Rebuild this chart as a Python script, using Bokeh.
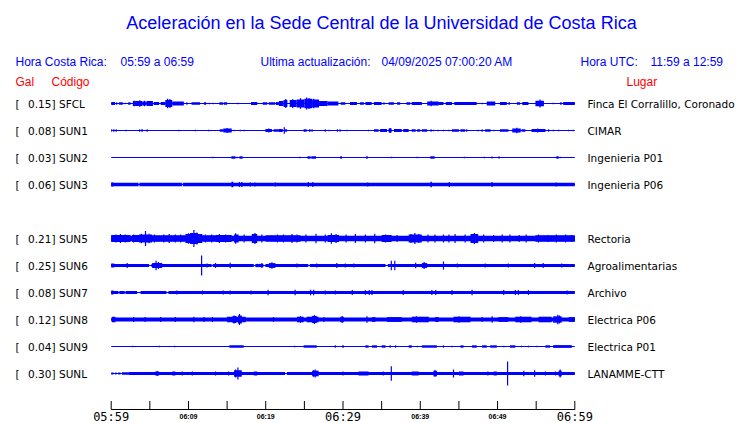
from bokeh.plotting import figure
from bokeh.models import Range1d, ColumnDataSource
from bokeh.core.properties import value
from bokeh.embed import file_html
from bokeh.resources import INLINE

# ---------------- data ----------------
codes = ["SFCL", "SUN1", "SUN2", "SUN3", "SUN5", "SUN6", "SUN7", "SUN8", "SUN9", "SUNL"]
gal_max = [0.15, 0.08, 0.03, 0.06, 0.21, 0.25, 0.08, 0.12, 0.04, 0.30]
places = ["Finca El Corralillo, Coronado", "CIMAR", "Ingenieria P01", "Ingenieria P06",
          "Rectoria", "Agroalimentarias", "Archivo", "Electrica P06", "Electrica P01", "LANAMME-CTT"]
row_slots = [0, 1, 2, 3, 5, 6, 7, 8, 9, 10]   # SUN4 slot is empty

# minutes since 05:59 ; half-amplitude envelope in Gal
SFCL_bands = [(0.0, 0.5, 0.04), (1.0, 1.5, 0.03), (2.2, 2.5, 0.03), (2.8, 3.2, 0.06), (3.2, 4.0, 0.06),
              (4.0, 4.6, 0.05), (4.6, 5.4, 0.06), (5.5, 6.2, 0.04), (6.4, 7.0, 0.04), (7.0, 7.9, 0.09),
              (7.9, 9.4, 0.05), (10.4, 11.5, 0.03), (12.0, 12.3, 0.03), (14.0, 14.5, 0.03), (14.6, 15.0, 0.03),
              (18.1, 18.9, 0.04), (19.6, 20.2, 0.03), (20.4, 21.2, 0.03), (21.3, 21.7, 0.04), (21.7, 22.3, 0.06),
              (22.3, 22.8, 0.09), (23.1, 24.0, 0.09), (24.0, 25.0, 0.10), (25.0, 26.0, 0.12), (26.0, 26.9, 0.10),
              (26.9, 28.0, 0.06), (28.0, 29.4, 0.05), (29.7, 30.3, 0.03), (30.9, 31.8, 0.04), (32.2, 32.7, 0.03),
              (32.9, 33.7, 0.04), (34.0, 35.0, 0.04), (35.9, 36.6, 0.03), (37.0, 37.4, 0.03), (38.2, 38.7, 0.03),
              (38.9, 40.2, 0.04), (40.9, 42.4, 0.05), (42.4, 43.0, 0.04), (43.3, 44.1, 0.04), (44.4, 47.3, 0.04),
              (48.6, 49.7, 0.05), (50.3, 51.2, 0.04), (51.4, 51.6, 0.03), (52.5, 52.9, 0.03), (53.2, 54.0, 0.04),
              (54.9, 56.0, 0.07), (58.1, 58.3, 0.03), (58.5, 60.0, 0.04)]
SFCL_spikes = [(0.7, 0.03), (1.8, 0.02), (3.0, 0.07), (3.7, 0.08), (4.3, 0.07), (7.3, 0.12), (7.6, 0.11),
               (9.8, 0.03), (12.7, 0.02), (13.2, 0.02), (16.4, 0.02), (22.6, 0.11), (23.5, 0.11), (24.5, 0.13),
               (25.3, 0.15), (25.6, 0.14), (26.2, 0.12), (35.3, 0.03), (41.4, 0.07), (48.0, 0.02), (55.5, 0.10),
               (57.2, 0.02)]

SUN1_bands = [(0.0, 0.12, 0.03), (3.6, 3.75, 0.03), (3.9, 4.1, 0.03), (14.05, 14.5, 0.03), (14.5, 15.6, 0.05),
              (19.96, 20.8, 0.04), (21.0, 21.7, 0.03), (21.7, 22.2, 0.04), (22.5, 22.76, 0.03), (24.9, 25.3, 0.03),
              (25.6, 25.8, 0.03), (29.2, 29.35, 0.03), (29.55, 29.7, 0.03), (34.0, 34.6, 0.03), (34.8, 35.7, 0.04),
              (35.9, 36.3, 0.05), (36.6, 37.6, 0.04), (37.8, 38.5, 0.04), (38.9, 39.4, 0.03), (39.6, 40.0, 0.03),
              (40.2, 40.9, 0.03), (44.1, 45.0, 0.03), (45.2, 45.8, 0.03), (48.4, 49.1, 0.03), (50.3, 51.4, 0.03),
              (51.9, 53.0, 0.05), (53.1, 53.6, 0.03), (54.4, 56.2, 0.04)]
SUN1_spikes = [(0.34, 0.03), (0.65, 0.03), (1.94, 0.02), (4.65, 0.03), (8.75, 0.02), (10.9, 0.02), (12.6, 0.02),
               (15.0, 0.06), (15.9, 0.02), (16.7, 0.02), (17.2, 0.02), (20.4, 0.05), (22.4, 0.08), (26.0, 0.03),
               (27.7, 0.03), (28.2, 0.02), (30.5, 0.02), (33.3, 0.02), (36.1, 0.06), (41.4, 0.03), (41.7, 0.02),
               (42.3, 0.02), (43.0, 0.02), (43.7, 0.02), (46.0, 0.03), (47.5, 0.02), (48.0, 0.03), (49.5, 0.02),
               (52.5, 0.07), (55.2, 0.05), (56.6, 0.03), (57.2, 0.02), (57.9, 0.02), (59.2, 0.02), (59.8, 0.02)]

SUN2_bands = [(15.56, 16.08, 0.03), (16.6, 17.0, 0.03), (25.4, 25.8, 0.03), (25.9, 26.5, 0.03), (29.65, 29.87, 0.03),
              (33.0, 33.2, 0.03), (41.3, 41.85, 0.03), (50.1, 50.3, 0.025), (57.6, 57.9, 0.03)]
SUN2_spikes = [(13.15, 0.02), (16.3, 0.02), (24.4, 0.02), (36.3, 0.02), (39.6, 0.02), (45.7, 0.02), (48.3, 0.02),
               (49.3, 0.025), (58.1, 0.02)]

SUN3_bands = [(0.0, 3.55, 0.045), (3.65, 9.15, 0.045), (9.25, 60.0, 0.045), (0.0, 0.3, 0.05),
              (15.56, 15.8, 0.07), (41.3, 41.5, 0.07)]
SUN3_spikes = [(16.6, 0.06), (16.9, 0.06), (18.0, 0.05), (18.6, 0.05), (21.25, 0.05), (25.5, 0.06), (26.1, 0.06),
               (33.2, 0.05), (43.75, 0.06), (49.3, 0.06), (57.6, 0.05)]

SUN5_bands = [(0.0, 60.0, 0.07), (0.0, 2.5, 0.09), (2.7, 3.6, 0.09), (3.6, 5.3, 0.10), (5.3, 6.4, 0.08),
              (6.4, 9.6, 0.08), (9.6, 11.8, 0.11), (10.2, 11.2, 0.14), (11.8, 13.5, 0.08), (13.5, 15.6, 0.09),
              (15.9, 16.5, 0.10), (18.2, 18.9, 0.11), (20.0, 24.5, 0.08), (28.0, 29.5, 0.09), (35.0, 36.3, 0.09),
              (38.5, 40.2, 0.10), (46.5, 47.5, 0.11), (54.9, 60.0, 0.08)]
SUN5_spikes = [(0.6, 0.10), (1.2, 0.11), (1.8, 0.10), (2.9, 0.10), (3.9, 0.12), (4.44, 0.19), (4.9, 0.12),
               (5.6, 0.10), (6.8, 0.10), (7.5, 0.11), (8.3, 0.10), (9.0, 0.10), (10.0, 0.13), (10.7, 0.21),
               (11.1, 0.15), (12.2, 0.10), (13.0, 0.10), (14.0, 0.11), (14.8, 0.10), (16.1, 0.13), (17.2, 0.10),
               (18.6, 0.14), (19.5, 0.10), (21.5, 0.10), (22.3, 0.10), (23.4, 0.11), (24.05, 0.10), (25.2, 0.10),
               (26.5, 0.12), (27.7, 0.10), (28.5, 0.13), (29.1, 0.11), (30.4, 0.10), (31.6, 0.11), (32.9, 0.10),
               (34.1, 0.12), (35.5, 0.10), (37.0, 0.09), (38.8, 0.11), (39.3, 0.14), (39.8, 0.11), (41.0, 0.10),
               (41.9, 0.10), (43.0, 0.10), (43.7, 0.10), (44.5, 0.11), (45.8, 0.10), (47.0, 0.14), (48.2, 0.10),
               (49.5, 0.09), (50.6, 0.10), (51.6, 0.10), (52.8, 0.09), (53.7, 0.10), (55.3, 0.10), (56.5, 0.09),
               (57.6, 0.10), (58.8, 0.10), (59.6, 0.09)]

SUN6_bands = [(0.0, 4.9, 0.04), (5.2, 13.0, 0.04), (13.15, 18.45, 0.04), (18.65, 19.7, 0.04), (19.95, 25.5, 0.04),
              (25.7, 35.5, 0.04), (35.8, 60.0, 0.04), (0.0, 0.4, 0.05), (5.3, 6.6, 0.06), (20.4, 21.25, 0.06),
              (40.2, 40.9, 0.06)]
SUN6_spikes = [(2.07, 0.06), (5.8, 0.12), (6.1, 0.09), (11.7, 0.25), (12.4, 0.05), (13.5, 0.06), (15.4, 0.07),
               (19.5, 0.06), (20.8, 0.08), (24.05, 0.05), (26.6, 0.05), (29.2, 0.06), (30.3, 0.05), (31.4, 0.05),
               (36.25, 0.12), (36.7, 0.12), (39.4, 0.07), (40.5, 0.09), (43.0, 0.10), (44.8, 0.05), (48.4, 0.05),
               (51.4, 0.05), (54.8, 0.06), (55.9, 0.06), (58.3, 0.05)]

SUN7_bands = [(0.0, 0.95, 0.04), (1.05, 1.75, 0.04), (1.85, 3.35, 0.04), (3.8, 7.15, 0.04), (7.4, 60.0, 0.04),
              (0.0, 0.3, 0.05)]
SUN7_spikes = [(8.5, 0.05), (11.8, 0.05), (14.5, 0.05), (15.4, 0.05), (18.1, 0.05), (20.3, 0.07), (23.8, 0.07),
               (25.8, 0.07), (26.2, 0.07), (27.7, 0.05), (29.0, 0.05), (31.2, 0.06), (32.9, 0.06), (33.4, 0.06),
               (33.75, 0.06), (37.8, 0.06), (41.5, 0.06), (42.0, 0.06), (44.1, 0.06), (46.7, 0.07), (50.8, 0.06),
               (52.3, 0.06), (52.7, 0.06), (54.0, 0.06), (59.0, 0.05)]

SUN8_bands = [(0.0, 60.0, 0.05), (0.1, 0.55, 0.07), (15.0, 17.4, 0.07), (15.7, 16.2, 0.09), (16.4, 16.9, 0.10),
              (24.05, 24.9, 0.07), (25.3, 26.85, 0.07), (26.0, 26.6, 0.09), (29.65, 30.1, 0.07), (33.75, 34.2, 0.06),
              (35.7, 37.6, 0.06), (38.9, 41.1, 0.07), (41.9, 42.4, 0.06), (44.3, 46.5, 0.07), (50.1, 51.4, 0.06),
              (52.3, 54.4, 0.07), (55.3, 57.0, 0.07), (57.2, 58.3, 0.08), (59.2, 60.0, 0.06)]
SUN8_spikes = [(2.9, 0.06), (4.4, 0.06), (6.4, 0.06), (8.3, 0.06), (10.7, 0.07), (12.0, 0.06), (13.1, 0.06),
               (15.9, 0.10), (16.6, 0.14), (21.0, 0.06), (24.5, 0.08), (26.3, 0.11), (27.5, 0.06), (29.9, 0.08),
               (33.1, 0.08), (39.5, 0.08), (45.0, 0.08), (48.0, 0.06), (49.3, 0.08), (53.0, 0.08), (57.8, 0.12),
               (58.0, 0.10)]

SUN9_bands = [(15.3, 17.15, 0.03), (24.9, 26.6, 0.03), (29.9, 30.1, 0.03), (32.9, 33.3, 0.03), (33.75, 34.4, 0.03),
              (35.0, 35.5, 0.03), (38.5, 38.9, 0.03), (40.2, 42.15, 0.03), (45.2, 45.6, 0.03), (46.7, 47.3, 0.03),
              (48.0, 48.6, 0.03), (49.05, 49.9, 0.03), (51.6, 52.3, 0.03), (56.2, 56.8, 0.03), (57.2, 59.6, 0.035)]
SUN9_spikes = [(2.8, 0.02), (6.25, 0.02), (8.2, 0.02), (23.75, 0.02), (29.0, 0.03), (36.1, 0.03), (36.8, 0.03),
               (39.6, 0.02), (43.0, 0.03), (44.1, 0.02), (50.8, 0.02), (53.1, 0.02), (54.0, 0.02), (55.1, 0.02)]

SUNL_bands = [(0.0, 0.3, 0.025), (0.5, 0.7, 0.025), (0.9, 1.2, 0.025), (1.4, 2.3, 0.03), (2.3, 22.5, 0.04),
              (22.75, 60.0, 0.04), (5.7, 6.2, 0.05), (7.9, 8.3, 0.05), (15.9, 16.9, 0.08), (18.45, 18.9, 0.05),
              (26.0, 26.85, 0.07), (32.0, 33.3, 0.05), (38.9, 39.8, 0.05), (41.7, 42.15, 0.07), (45.0, 45.6, 0.05),
              (49.5, 49.9, 0.05), (57.9, 58.3, 0.07)]
SUNL_spikes = [(2.6, 0.03), (5.95, 0.06), (9.2, 0.05), (10.5, 0.05), (13.5, 0.05), (15.2, 0.05), (16.1, 0.10),
               (16.4, 0.15), (26.2, 0.08), (26.4, 0.10), (30.0, 0.05), (35.2, 0.05), (36.25, 0.18), (41.9, 0.08),
               (44.3, 0.10), (48.75, 0.05), (51.3, 0.30), (53.4, 0.07), (54.8, 0.08), (56.2, 0.05), (57.5, 0.05),
               (58.1, 0.10)]

bands = [SFCL_bands, SUN1_bands, SUN2_bands, SUN3_bands, SUN5_bands,
         SUN6_bands, SUN7_bands, SUN8_bands, SUN9_bands, SUNL_bands]
spikes = [SFCL_spikes, SUN1_spikes, SUN2_spikes, SUN3_spikes, SUN5_spikes,
          SUN6_spikes, SUN7_spikes, SUN8_spikes, SUN9_spikes, SUNL_spikes]

tick_minutes = list(range(0, 61, 5))
small_tick_pos = [10, 20, 40, 50]
small_tick_labels = ["06:09", "06:19", "06:39", "06:49"]
big_tick_pos = [0, 30, 60]
big_tick_labels = ["05:59", "06:29", "06:59"]

title_text = "Aceleración en la Sede Central de la Universidad de Costa Rica"

# ---------------- layout ----------------
BLUE = "#0000FF"
RED = "#FF0000"
PX_PER_GAL = 40.0
ROW0, ROW_STEP = 103, 27
W, H = 740, 423
X0_PX, PX_PER_MIN = 110.7, 7.727
AXIS_Y, TICK_LEN = 409, 8.5

p = figure(width=W, height=H, output_backend="svg", toolbar_location=None,
           x_range=Range1d(-X0_PX / PX_PER_MIN, (W - X0_PX) / PX_PER_MIN), y_range=Range1d(H, 0),
           min_border=0, x_axis_location=None, y_axis_location=None,
           outline_line_color=None, background_fill_color="white", border_fill_color="white")
p.grid.visible = False
p.extra_x_ranges = {"px": Range1d(0, W)}

rows = [ROW0 + ROW_STEP * s for s in row_slots]

# baselines
p.segment(x0=[0] * len(rows), x1=[60] * len(rows), y0=rows, y1=rows, line_color=BLUE, line_width=1)

# envelope blocks
ql, qr, qt, qb = [], [], [], []
for r, bl in zip(rows, bands):
    for (a, b, g) in bl:
        ql.append(a); qr.append(b)
        qt.append(r - g * PX_PER_GAL); qb.append(r + g * PX_PER_GAL)
p.quad(source=ColumnDataSource(dict(left=ql, right=qr, top=qt, bottom=qb)),
       left="left", right="right", top="top", bottom="bottom",
       fill_color=BLUE, line_color=None)

# spikes
sx, sy0, sy1 = [], [], []
for r, sp in zip(rows, spikes):
    for (t, g) in sp:
        sx.append(t); sy0.append(r - g * PX_PER_GAL); sy1.append(r + g * PX_PER_GAL)
p.segment(x0=sx, x1=sx, y0=sy0, y1=sy1, line_color=BLUE, line_width=1.2)

# ---------------- texts ----------------
def txt(x, y, s, color, size, align="left", font="Liberation Sans"):
    p.text(x=[x], y=[y], text=[s], x_range_name="px", text_color=color,
           text_font=value(font), text_font_size=size, text_align=align,
           text_baseline="middle")

txt(381, 22, title_text, BLUE, "18px", "center")
txt(15, 61, "Hora Costa Rica:", BLUE, "12px")
txt(120, 61, "05:59 a 06:59", BLUE, "12px")
txt(260, 61, "Ultima actualización:", BLUE, "12px")
txt(381, 61, "04/09/2025 07:00:20 AM", BLUE, "12px")
txt(580, 61, "Hora UTC:", BLUE, "12px")
txt(650, 61, "11:59 a 12:59", BLUE, "12px")
txt(15, 81, "Gal", RED, "12px")
txt(51, 81, "Código", RED, "12px")
txt(626, 81, "Lugar", RED, "12px")

n = len(rows)
p.text(x=[15] * n, y=rows, text=["["] * n, x_range_name="px", text_color="black",
       text_font=value("DejaVu Sans"), text_font_size="10.5px", text_baseline="middle")
p.text(x=[55] * n, y=rows, text=[f"{g:.2f}]" for g in gal_max], x_range_name="px", text_color="black",
       text_font=value("DejaVu Sans"), text_font_size="10.5px", text_baseline="middle", text_align="right")
p.text(x=[58.5] * n, y=rows, text=codes, x_range_name="px", text_color="black",
       text_font=value("DejaVu Sans"), text_font_size="10.5px", text_baseline="middle")
p.text(x=[587] * n, y=rows, text=places, x_range_name="px", text_color="black",
       text_font=value("DejaVu Sans"), text_font_size="10.5px", text_baseline="middle")

# ---------------- time axis (drawn on the minute scale) ----------------
p.segment(x0=[tick_minutes[0]], x1=[tick_minutes[-1]], y0=[AXIS_Y], y1=[AXIS_Y],
          line_color="black", line_width=1)
nt = len(tick_minutes)
p.segment(x0=tick_minutes, x1=tick_minutes, y0=[AXIS_Y] * nt, y1=[AXIS_Y - TICK_LEN] * nt,
          line_color="black", line_width=1)
p.text(x=small_tick_pos, y=[AXIS_Y + 3] * len(small_tick_pos), text=small_tick_labels,
       text_font=value("Liberation Sans"), text_font_style="bold", text_font_size="7px",
       text_align="center", text_baseline="top", text_color="black")
p.text(x=big_tick_pos, y=[AXIS_Y + 7.5] * len(big_tick_pos), text=big_tick_labels,
       text_font=value("DejaVu Sans Mono"), text_font_size="12px",
       text_align="center", text_baseline="middle", text_color="black")

open("out.html", "w").write(file_html(p, INLINE))
